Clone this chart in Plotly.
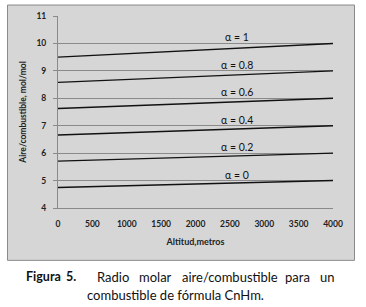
import plotly.graph_objects as go

altitud = [0, 4000]
series = {
    "α = 0":   [4.75, 5.0],
    "α = 0.2": [5.71, 6.0],
    "α = 0.4": [6.66, 7.0],
    "α = 0.6": [7.63, 8.0],
    "α = 0.8": [8.58, 9.0],
    "α = 1":   [9.50, 10.0],
}
label_x = 2600
x_ticks = [0, 500, 1000, 1500, 2000, 2500, 3000, 3500, 4000]
y_ticks = [4, 5, 6, 7, 8, 9, 10, 11]

W, H = 366, 307
L, R, T, B = 58, 33, 15.5, 99
PW, PH = W - L - R, H - T - B

def px(x):
    return (x - L) / PW

def py(y):
    return (H - B - y) / PH

fig = go.Figure()
for name, vals in series.items():
    fig.add_trace(go.Scatter(x=altitud, y=vals, mode="lines",
                             line=dict(color="#111111", width=1.4),
                             showlegend=False, hoverinfo="skip"))
    fig.add_annotation(x=label_x, y=vals[-1] + 0.22, text=name, showarrow=False,
                       xanchor="center", yanchor="middle",
                       font=dict(family="Lato", size=10.5, color="#111111"))

# grey chart box
fig.add_shape(type="rect", xref="paper", yref="paper",
              x0=px(7.5), x1=px(354.5), y0=py(260.5), y1=py(4.5),
              fillcolor="#d6d6d6", line=dict(color="#8a8a8a", width=1), layer="below")

# caption (justified first line, placed word by word)
words = [("<b>Figura</b>", 24, 12.5), ("<b>5.</b>", 64, 12.5), ("Radio", 95, 13),
         ("molar", 137, 13), ("aire/combustible", 180, 13), ("para", 283, 13), ("un", 318, 13)]
for w, x, s in words:
    fig.add_annotation(xref="paper", yref="paper", x=px(x), y=py(277), text=w,
                       showarrow=False, xanchor="left", yanchor="middle",
                       font=dict(family="Lato", size=s, color="#111111"))
fig.add_annotation(xref="paper", yref="paper", x=px(175), y=py(295),
                   text="combustible de fórmula CnHm.", showarrow=False,
                   xanchor="center", yanchor="middle",
                   font=dict(family="Lato", size=13, color="#111111"))

fig.update_layout(
    width=W, height=H,
    margin=dict(l=L, r=R, t=T, b=B, pad=0),
    paper_bgcolor="white", plot_bgcolor="white",
    xaxis=dict(range=[0, 4000], tickvals=x_ticks, ticktext=[str(v) for v in x_ticks],
               showgrid=False, zeroline=False, showline=True, linecolor="#8a8a8a",
               linewidth=1, ticks="", ticklen=0, ticklabelstandoff=8,
               tickfont=dict(family="Lato", size=8.5, color="#222222", weight="bold"),
               title=dict(text="<b>Altitud,metros</b>", standoff=10,
                          font=dict(family="Lato", size=9, color="#222222"))),
    yaxis=dict(range=[4, 11], tickvals=y_ticks, showgrid=True, gridcolor="#8a8a8a",
               gridwidth=1, zeroline=False, showline=True, linecolor="#8a8a8a",
               linewidth=1, ticks="outside", ticklen=4, tickcolor="#8a8a8a",
               ticklabelstandoff=5,
               tickfont=dict(family="Lato", size=8.5, color="#222222", weight="bold"),
               title=dict(text="<b>Aire/combustible, mol/mol</b>", standoff=8,
                          font=dict(family="Lato", size=8.5, color="#222222"))),
)

fig.write_html("out.html")
